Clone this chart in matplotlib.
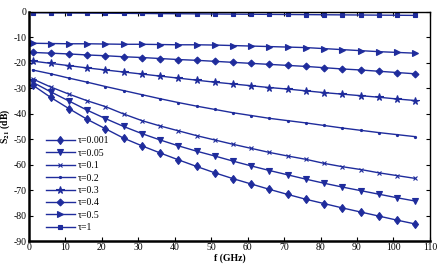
import matplotlib
matplotlib.use("Agg")
import matplotlib.pyplot as plt
from matplotlib.ticker import MultipleLocator

plt.rcParams['font.family'] = ['Liberation Serif', 'DejaVu Serif']
plt.rcParams['axes.unicode_minus'] = False
plt.rcParams['mathtext.fontset'] = 'stix'

# frequency points (GHz)
freq = [1, 6, 11, 16, 21, 26, 31, 36, 41, 46, 51, 56, 61, 66, 71, 76, 81, 86, 91, 96, 101, 106]

# S21 (dB) per tau
s21_t0001 = [-28.7, -33.6, -38.0, -42.2, -45.9, -49.6, -52.6, -55.4, -58.1, -60.7, -63.2,
             -65.5, -67.6, -69.7, -71.7, -73.6, -75.3, -77.0, -78.6, -80.2, -81.8, -83.3]
s21_t005 = [-27.6, -31.4, -35.0, -38.6, -41.9, -45.0, -47.8, -50.3, -52.6, -54.7, -56.6,
            -58.6, -60.5, -62.3, -64.0, -65.7, -67.3, -68.8, -70.2, -71.6, -73.0, -74.3]
s21_t01 = [-26.3, -29.5, -32.3, -34.9, -37.2, -40.1, -42.7, -44.8, -46.7, -48.6, -50.3,
           -52.0, -53.6, -55.2, -56.6, -57.9, -59.5, -60.8, -61.9, -63.2, -64.3, -65.4]
s21_t02 = [-22.8, -24.3, -26.0, -27.6, -29.3, -30.9, -32.5, -34.1, -35.6, -37.0, -38.3,
           -39.6, -40.7, -41.8, -42.7, -43.6, -44.6, -45.6, -46.5, -47.4, -48.2, -49.0]
s21_t03 = [-19.3, -20.2, -21.1, -22.0, -22.8, -23.6, -24.4, -25.2, -26.0, -26.8, -27.6,
           -28.3, -29.0, -29.7, -30.3, -31.0, -31.7, -32.3, -32.9, -33.5, -34.2, -34.8]
s21_t04 = [-15.9, -16.2, -16.5, -16.9, -17.2, -17.6, -17.9, -18.3, -18.7, -19.0, -19.4,
           -19.8, -20.2, -20.6, -21.0, -21.4, -21.9, -22.4, -22.8, -23.3, -23.8, -24.3]
s21_t05 = [-12.3, -12.4, -12.5, -12.5, -12.6, -12.7, -12.7, -12.8, -12.9, -12.9, -13.0,
           -13.2, -13.4, -13.6, -13.8, -14.0, -14.4, -14.8, -15.2, -15.6, -15.9, -16.2]
s21_t1 = [-0.3, -0.35, -0.4, -0.45, -0.5, -0.55, -0.6, -0.65, -0.7, -0.75, -0.8,
          -0.85, -0.9, -0.95, -1.0, -1.05, -1.1, -1.15, -1.2, -1.25, -1.3, -1.35]

labels = ['\u03c4=0.001', '\u03c4=0.05', '\u03c4=0.1', '\u03c4=0.2',
          '\u03c4=0.3', '\u03c4=0.4', '\u03c4=0.5', '\u03c4=1']
series = [s21_t0001, s21_t005, s21_t01, s21_t02, s21_t03, s21_t04, s21_t05, s21_t1]
markers = ['d', 'v', 'x', '.', '*', 'D', '>', 's']
msizes = [4.5, 5, 3.5, 3, 5.5, 3.5, 5, 3.5]

color = '#1f2c9c'

fig = plt.figure(figsize=(4.45, 2.78), dpi=100)
ax = fig.add_axes([0.065, 0.133, 0.901, 0.824])

for ys, lab, m, ms in zip(series, labels, markers, msizes):
    ax.plot(freq, ys, color=color, lw=1.0, marker=m, markersize=ms,
            markeredgewidth=0.8, label=lab)

ax.set_xlim(0, 110)
ax.set_ylim(-90, 0)
ax.xaxis.set_major_locator(MultipleLocator(10))
ax.yaxis.set_major_locator(MultipleLocator(10))
ax.tick_params(which='both', direction='in', top=True, right=True,
               length=3, width=0.8, labelsize=7, pad=1.5)

for side in ['left', 'bottom']:
    ax.spines[side].set_linewidth(1.8)
for side in ['top', 'right']:
    ax.spines[side].set_linewidth(1.0)

ax.set_xlabel('f (GHz)', fontsize=7, fontweight='bold', labelpad=1)
ax.set_ylabel('S$_{\\mathbf{21}}$ (dB)', fontsize=7, fontweight='bold', labelpad=1)

ax.legend(loc='lower left', bbox_to_anchor=(0.02, 0.0), frameon=False,
          fontsize=7, handlelength=3.0, labelspacing=0.35, handletextpad=0.3,
          borderpad=0.4)

fig.set_facecolor('white')
plt.savefig('out.png', dpi=100)
